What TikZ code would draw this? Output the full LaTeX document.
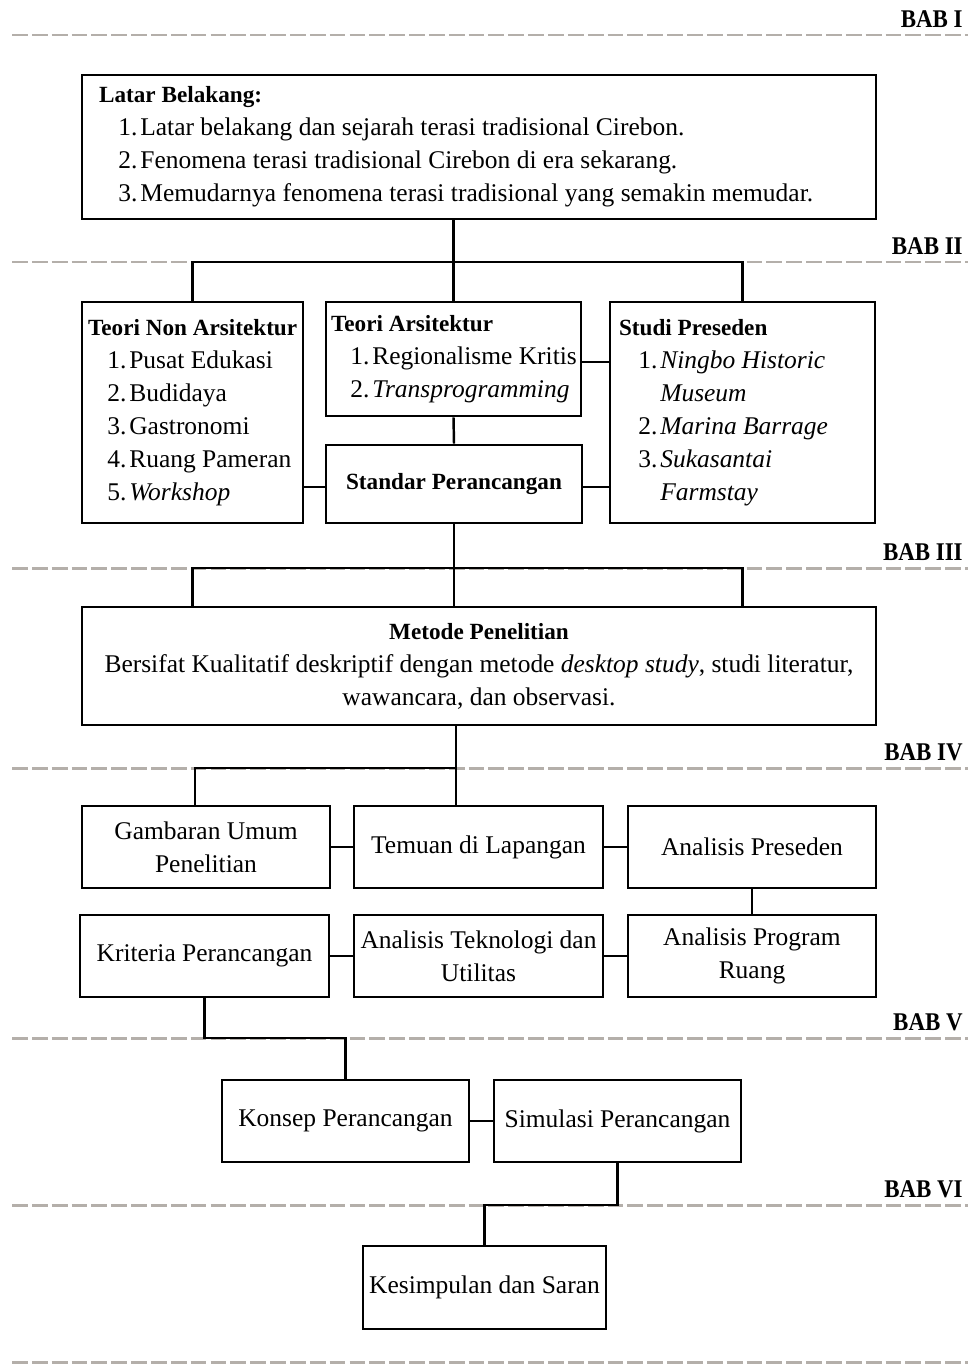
\documentclass[tikz,border=0pt]{standalone}
\usepackage{fontspec}
\setmainfont{Liberation Serif}
\usepackage{graphicx}
\definecolor{babgray}{RGB}{180,175,170}
\usetikzlibrary{calc}
\usetikzlibrary{positioning}

\newcommand{\ttl}[1]{\mbox{\fontsize{13.2}{18.8}\selectfont\bfseries #1}}
\newcommand{\itm}[2]{\hspace*{11pt}\makebox[12.5pt][l]{#1.}\mbox{#2}}
\newcommand{\cont}[1]{\hspace*{23.5pt}\mbox{#1}}
\newcommand{\bab}[1]{\scalebox{0.9}[1]{\fontsize{14.5}{16}\selectfont\bfseries BAB #1}}

\begin{document}
\begin{tikzpicture}[x=0.02cm, y=-0.02cm,
    font=\fontsize{14.5}{18.8}\selectfont,
    box/.style={draw, line width=1.6pt, rectangle, inner sep=0pt,
      minimum width=4.96cm, minimum height=1.64cm, align=center},
    listbox/.style={box, align=flush left},
    link/.style={line width=1.4pt},
    sep/.style={babgray, line width=1.7pt, dash pattern=on 9pt off 2.3pt},
  ]

  \useasboundingbox (0,0) rectangle (968,1366);

  % chapter separators
  \foreach \y/\b [count=\i] in {35/I,262/II,568/III,768/IV,1038/V,1205/VI} {
    \draw [sep] (12,\y) -- (968,\y);
    \coordinate (j\i) at (0,\y);
    \node [anchor=base east, inner sep=0pt] (bab\i) at (963,\y-8) {\bab{\b}};
  }
  \draw [sep] (12,1362) -- (968,1362);

  % BAB I
  \node [listbox, minimum width=15.88cm, minimum height=2.88cm, text width=15.2cm] at (479,147) (latar) {\ttl{Latar Belakang:}\\
    \itm{1}{Latar belakang dan sejarah terasi tradisional Cirebon.}\\
    \itm{2}{Fenomena terasi tradisional Cirebon di era sekarang.}\\
    \itm{3}{Memudarnya fenomena terasi tradisional yang semakin memudar.}};

  % BAB II
  \node [listbox, minimum width=4.42cm, minimum height=4.42cm, text width=4.18cm] at (192.5,412.5) (nonars) {\ttl{Teori Non Arsitektur}\\
    \itm{1}{Pusat Edukasi}\\ \itm{2}{Budidaya}\\ \itm{3}{Gastronomi}\\
    \itm{4}{Ruang Pameran}\\ \itm{5}{\textit{Workshop}}};
  \node [listbox, minimum width=5.1cm, minimum height=2.28cm, text width=4.9cm] at (453.5,359) (ars) {\ttl{Teori Arsitektur}\\
    \itm{1}{Regionalisme Kritis}\\ \itm{2}{\textit{Transprogramming}}};
  \node [listbox, minimum width=5.3cm, minimum height=4.42cm, text width=4.94cm] at (742.5,412.5) (preseden) {\ttl{Studi Preseden}\\
    \itm{1}{\textit{Ningbo Historic}}\\ \cont{\textit{Museum}}\\
    \itm{2}{\textit{Marina Barrage}}\\ \itm{3}{\textit{Sukasantai}}\\
    \cont{\textit{Farmstay}}};
  \node [box, minimum width=5.12cm, minimum height=1.56cm] at (454,484) (standar) {\ttl{Standar Perancangan}};

  % BAB III
  \node [box, minimum width=15.88cm, minimum height=2.36cm] at (479,666) (metode) {\ttl{Metode Penelitian}\\
    Bersifat Kualitatif deskriptif dengan metode \textit{desktop study}, studi literatur,\\
    wawancara, dan observasi.};

  % BAB IV
  \node [box] at (206,847) (gambaran) {Gambaran Umum\\ Penelitian};
  \node [box, minimum width=4.98cm] at (478.5,847) (temuan) {Temuan di Lapangan};
  \node [box] at (752,847) (anpres) {Analisis Preseden};
  \node [box, minimum width=4.98cm] at (204.5,956) (kriteria) {Kriteria Perancangan};
  \node [box, minimum width=4.98cm] at (478.5,956) (teknologi) {Analisis Teknologi dan\\ Utilitas};
  \node [box] at (752,956) (program) {Analisis Program\\ Ruang};

  % BAB V & VI
  \node [box, minimum width=4.94cm] at (345.5,1121) (konsep) {Konsep Perancangan};
  \node [box, minimum width=4.94cm] at (617.5,1121) (simulasi) {Simulasi Perancangan};
  \node [box, minimum width=4.86cm, minimum height=1.66cm] at (484.5,1287.5) (kesimpulan) {Kesimpulan dan Saran};

  \coordinate (spine) at (456,0);

  \draw [link] (nonars.north) |- (j2 -| ars.north) -| (preseden.north);
  \draw [link] (latar.south -| ars.north) -- (ars.north);
  \draw [link] (ars.south) -- (standar.north);
  \draw [link] ([yshift=-0.06cm]ars.east) -- ([yshift=-0.06cm]ars.east -| preseden.west);
  \draw [link] ([yshift=-0.06cm]standar.west) -- ([yshift=-0.06cm]standar.west -| nonars.east);
  \draw [link] ([yshift=-0.06cm]standar.east) -- ([yshift=-0.06cm]standar.east -| preseden.west);

  \draw [link] (nonars.north |- metode.north) |- (j3 -| standar.south) -| (preseden.north |- metode.north);
  \draw [link] (standar.south) -- (standar.south |- metode.north);

  \draw [link] (metode.south -| spine) -- (temuan.north -| spine);
  \draw [link] (j4 -| spine) -| ([xshift=-0.22cm]gambaran.north);

  \foreach \a/\b in {gambaran/temuan,temuan/anpres,kriteria/teknologi,teknologi/program,konsep/simulasi} {
    \draw [link] (\a.east) -- (\b.west);
  }
  \draw [link] (anpres.south) -- (program.north);

  \draw [link] (kriteria.south) |- (j5 -| konsep.north) -- (konsep.north);
  \draw [link] (simulasi.south) |- (j6 -| kesimpulan.north) -- (kesimpulan.north);
\end{tikzpicture}
\end{document}
